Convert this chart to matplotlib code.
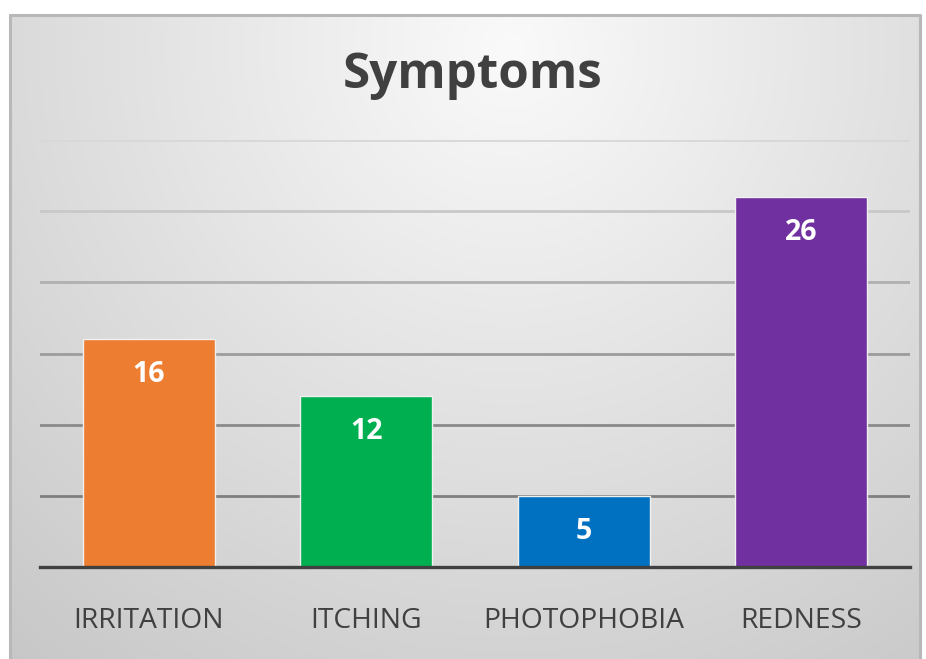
import numpy as np
import matplotlib
matplotlib.use("Agg")
import matplotlib.pyplot as plt
from matplotlib.lines import Line2D

categories = ["IRRITATION", "ITCHING", "PHOTOPHOBIA", "REDNESS"]
values = [16, 12, 5, 26]
colors = ["#ED7D31", "#00B050", "#0070C0", "#7030A0"]
title = "Symptoms"
y_ticks = [0, 5, 10, 15, 20, 25, 30]

W, H = 926, 659
fig = plt.figure(figsize=(W / 100, H / 100), dpi=100)
fig.patch.set_facecolor("white")

# background gradient panel
bg = fig.add_axes([9 / W, 0, (920 - 9) / W, 1 - 14 / H])
bg.set_axis_off()
yy, xx = np.mgrid[0:1:200j, 0:1:300j]
d = np.sqrt(((xx - 0.55) / 0.75) ** 2 + ((yy - 0.05) / 1.05) ** 2)
shade = 0.98 - 0.17 * np.clip(d, 0, 1.2)
img = np.dstack([shade, shade, shade])
bg.imshow(img, aspect="auto", extent=[0, 1, 1, 0], interpolation="bilinear")
bg.set_xlim(0, 1)
bg.set_ylim(1, 0)

# chart border (left, top, right)
bx0, bx1, by = 9.5 / W, 919.5 / W, 1 - 14.5 / H
fig.add_artist(Line2D([bx0, bx0, bx1, bx1], [0, by, by, 0], color="#b8b8b8",
                      lw=2.2, transform=fig.transFigure))

ax = fig.add_axes([40 / W, 1 - 567 / H, (910 - 40) / W, (567 - 140) / H])
ax.patch.set_alpha(0)
x = np.arange(len(categories))
ax.set_xlim(-0.5, len(categories) - 0.5)
ax.set_ylim(0, 30)

grid_cols = ["#7f7f7f", "#8a8a8a", "#9c9c9c", "#b0b0b0", "#c8c8c8", "#d8d8d8"]
for t, c in zip(y_ticks[1:], grid_cols):
    ax.axhline(t, color=c, lw=2, zorder=1)

ax.bar(x, values, width=0.607, color=colors, edgecolor="#f0f0f0",
       linewidth=1, zorder=2)
ax.axhline(0, color="#404040", lw=2.4, zorder=3, clip_on=False)

for xi, v in zip(x, values):
    ax.text(xi, v - 2.5, str(v), ha="center", va="center", color="white",
            fontsize=20.5, fontweight="bold", family="Open Sans", zorder=4)

for s in ax.spines.values():
    s.set_visible(False)
ax.set_yticks([])
ax.set_xticks(x)
ax.set_xticklabels(categories, family="Open Sans", fontsize=20.3, color="#404040")
ax.tick_params(axis="x", length=0, pad=29)

fig.text(473 / W, 1 - 75 / H, title, ha="center", va="center", fontsize=35.5,
         fontweight="bold", family="Open Sans", color="#404040")

fig.savefig("out.png", dpi=100)
